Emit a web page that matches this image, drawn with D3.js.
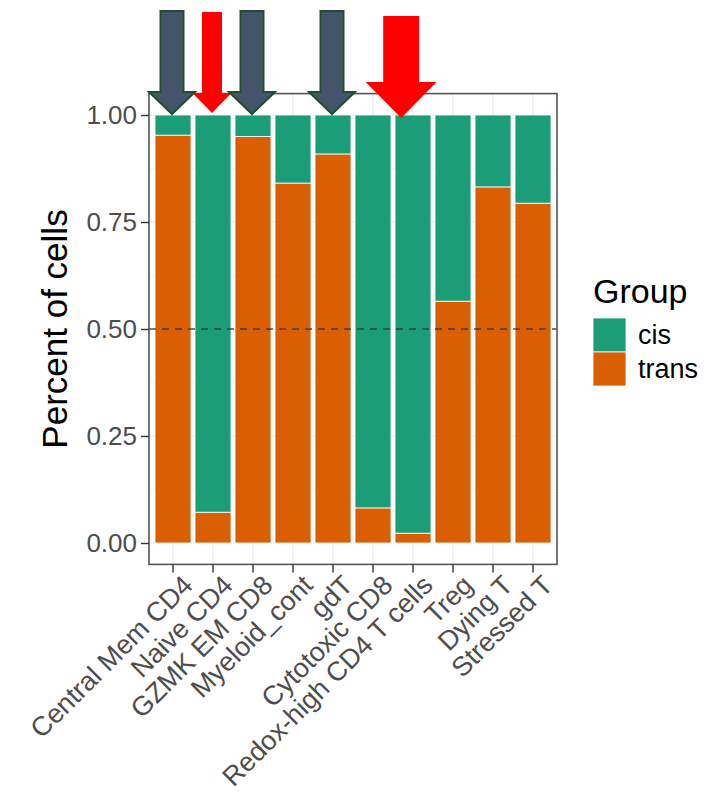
<!DOCTYPE html>
<html><head><meta charset="utf-8">
<script src="https://cdn.jsdelivr.net/npm/d3@7"></script>
<style>
body{margin:0;background:#fff;}
text{font-family:"Liberation Sans",Arial,Helvetica,sans-serif;}
</style>
</head><body>
<svg id="chart" width="717" height="806"></svg>
<script>
const categories = ["Central Mem CD4","Naive CD4","GZMK EM CD8","Myeloid_cont","gdT","Cytotoxic CD8","Redox-high CD4 T cells","Treg","Dying T","Stressed T"];
const groups = ["cis","trans"];
const transValues = [0.953,0.072,0.950,0.841,0.909,0.082,0.023,0.565,0.832,0.794];
const cisValues   = [0.047,0.928,0.050,0.159,0.091,0.918,0.977,0.435,0.168,0.206];
const yTicks = [0,0.25,0.5,0.75,1];
const yMinor = [0.125,0.375,0.625,0.875];
const colors = {cis:"#1B9E77", trans:"#D95F02"};
// annotation arrows: category index position (fractional) and style
const arrows = [
  {pos:0, kind:"dark"},{pos:1, kind:"red"},{pos:2, kind:"dark"},{pos:4, kind:"dark"},{pos:5.73, kind:"bigred"}
];

const svg = d3.select("#chart");
const panel = {left:149, right:557};
const x = d3.scaleBand().domain(categories).range([panel.left, panel.right]).paddingInner(0.1).paddingOuter(0.15);
const y = d3.scaleLinear().domain([0,1]).range([543,115]);
const pTop = y(1.05), pBot = y(-0.05);

// gridlines
const g = svg.append("g");
g.selectAll(".gm").data(yMinor).join("line")
  .attr("x1",panel.left).attr("x2",panel.right).attr("y1",d=>y(d)).attr("y2",d=>y(d))
  .attr("stroke","#EBEBEB").attr("stroke-width",0.6);
g.selectAll(".gy").data(yTicks).join("line")
  .attr("x1",panel.left).attr("x2",panel.right).attr("y1",d=>y(d)).attr("y2",d=>y(d))
  .attr("stroke","#EBEBEB").attr("stroke-width",1.2);
g.selectAll(".gx").data(categories).join("line")
  .attr("x1",d=>x(d)+x.bandwidth()/2).attr("x2",d=>x(d)+x.bandwidth()/2).attr("y1",pTop).attr("y2",pBot)
  .attr("stroke","#EBEBEB").attr("stroke-width",1.2);

// stacked bars
const rows = categories.map((c,i)=>({cat:c, cis:cisValues[i], trans:transValues[i]}));
const stack = d3.stack().keys(["trans","cis"])(rows);
svg.append("g").selectAll("g").data(stack).join("g")
  .attr("fill",d=>colors[d.key])
  .selectAll("rect").data(d=>d).join("rect")
  .attr("x",d=>x(d.data.cat)).attr("width",x.bandwidth())
  .attr("y",d=>y(d[1])).attr("height",d=>y(d[0])-y(d[1]))
  .attr("stroke","#fff").attr("stroke-width",0.8);

// dashed reference line
svg.append("line").attr("x1",panel.left).attr("x2",panel.right)
  .attr("y1",y(0.5)).attr("y2",y(0.5))
  .attr("stroke","#333").attr("stroke-opacity",0.85).attr("stroke-width",1.6).attr("stroke-dasharray","7,6");

// panel border
svg.append("rect").attr("x",panel.left).attr("y",pTop).attr("width",panel.right-panel.left).attr("height",pBot-pTop)
  .attr("fill","none").attr("stroke","#555").attr("stroke-width",1.6);

// y axis
const ya = svg.append("g").attr("transform",`translate(${panel.left},0)`)
  .call(d3.axisLeft(y).tickValues(yTicks).tickFormat(d3.format(".2f")).tickSize(8).tickPadding(4));
ya.select(".domain").remove();
ya.selectAll("line").attr("stroke","#333").attr("stroke-width",1.4);
ya.selectAll("text").attr("fill","#4D4D4D").style("font-size","26px");

// x axis
const xa = svg.append("g").attr("transform",`translate(0,${pBot})`)
  .call(d3.axisBottom(x).tickSize(8).tickPadding(3));
xa.select(".domain").remove();
xa.selectAll("line").attr("stroke","#333").attr("stroke-width",1.4);
xa.selectAll("text").attr("fill","#4D4D4D").style("font-size","27px")
  .attr("text-anchor","end").attr("dy","0.72em")
  .attr("transform","translate(2,3) rotate(-45)").attr("y",8).attr("x",0);

// y title
svg.append("text").attr("transform",`translate(67,${(pTop+pBot)/2}) rotate(-90)`)
  .attr("text-anchor","middle").style("font-size","35px").attr("fill","#000").text("Percent of cells");

// legend
const lg = svg.append("g").attr("transform","translate(593,0)");
lg.append("text").attr("x",0).attr("y",303).style("font-size","34px").attr("fill","#000").text("Group");
groups.forEach((k,i)=>{
  lg.append("rect").attr("x",0).attr("y",318+i*34).attr("width",33).attr("height",34).attr("fill",colors[k])
    .attr("stroke","#fff").attr("stroke-width",0.8);
  lg.append("text").attr("x",45).attr("y",318+i*34+17).attr("dy","0.35em").style("font-size","27px").attr("fill","#000").text(k);
});

// annotation arrows
const shapes = {
  dark:{sw:11.5, hw:23, top:11, head:92, tip:114, fill:"#44546A", stroke:"#1F4E2C", lw:2},
  red:{sw:10, hw:19.5, top:12, head:93, tip:113, fill:"#FF0000", stroke:"none", lw:0},
  bigred:{sw:18, hw:35.5, top:16, head:82, tip:118, fill:"#FF0000", stroke:"none", lw:0}
};
const step = x.step();
arrows.forEach(a=>{
  const s = shapes[a.kind];
  const cx = x(categories[0]) + x.bandwidth()/2 + a.pos*step - 1;
  const pts = [[cx-s.sw,s.top],[cx+s.sw,s.top],[cx+s.sw,s.head],[cx+s.hw,s.head],[cx,s.tip],[cx-s.hw,s.head],[cx-s.sw,s.head]];
  svg.append("polygon").attr("points",pts.map(p=>p.join(",")).join(" "))
    .attr("fill",s.fill).attr("stroke",s.stroke).attr("stroke-width",s.lw).attr("stroke-linejoin","miter");
});
</script>
</body></html>
